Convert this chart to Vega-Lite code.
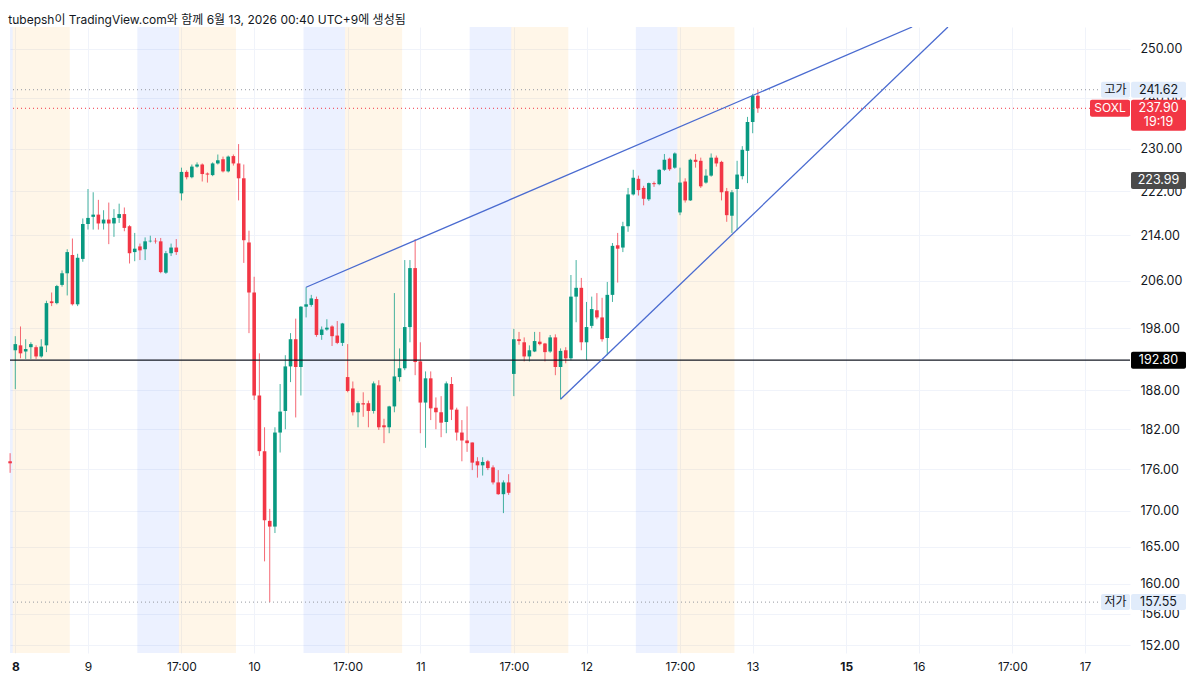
{
  "$schema": "https://vega.github.io/schema/vega-lite/v6.json",
  "width": 1120,
  "height": 626,
  "autosize": "none",
  "padding": {"left": 10, "top": 27, "right": 70, "bottom": 36},
  "background": "#ffffff",
  "config": {
    "view": {"stroke": null},
    "text": {"font": "Inter, 'Noto Sans CJK KR', sans-serif"}
  },
  "title": {
    "text": "tubepsh이 TradingView.com와 함께 6월 13, 2026 00:40 UTC+9에 생성됨",
    "anchor": "start",
    "font": "Inter, 'Noto Sans CJK KR', sans-serif",
    "fontSize": 12,
    "fontWeight": "normal",
    "color": "#131722",
    "offset": 0
  },
  "datasets": {
    "candles": [
      {"i": -1, "o": 177.2, "h": 178.4, "l": 175.5, "c": 176.9},
      {"i": 0, "o": 194.4, "h": 196.7, "l": 188.2, "c": 195.4},
      {"i": 1, "o": 195.2, "h": 198.3, "l": 193.1, "c": 193.9},
      {"i": 2, "o": 194.2, "h": 196.2, "l": 193.0, "c": 194.6},
      {"i": 3, "o": 194.9, "h": 195.7, "l": 193.0, "c": 195.4},
      {"i": 4, "o": 194.9, "h": 195.2, "l": 193.0, "c": 193.4},
      {"i": 5, "o": 193.4, "h": 196.2, "l": 193.2, "c": 195.0},
      {"i": 6, "o": 195.2, "h": 202.6, "l": 194.1, "c": 202.2},
      {"i": 7, "o": 202.5, "h": 204.0, "l": 201.7, "c": 202.2},
      {"i": 8, "o": 202.2, "h": 205.3, "l": 202.0, "c": 205.1},
      {"i": 9, "o": 205.3, "h": 207.8, "l": 205.0, "c": 207.3},
      {"i": 10, "o": 207.3, "h": 211.5, "l": 203.5, "c": 211.0},
      {"i": 11, "o": 210.5, "h": 213.4, "l": 201.8, "c": 202.0},
      {"i": 12, "o": 202.0, "h": 210.7, "l": 201.7, "c": 210.0},
      {"i": 13, "o": 209.8, "h": 217.0, "l": 209.3, "c": 216.0},
      {"i": 14, "o": 216.0, "h": 222.4, "l": 215.0, "c": 217.1},
      {"i": 15, "o": 217.3, "h": 221.8, "l": 215.0, "c": 217.7},
      {"i": 16, "o": 217.7, "h": 220.4, "l": 215.0, "c": 216.1},
      {"i": 17, "o": 216.1, "h": 218.5, "l": 215.0, "c": 216.8},
      {"i": 18, "o": 216.8, "h": 219.9, "l": 212.4, "c": 216.1},
      {"i": 19, "o": 216.1, "h": 218.7, "l": 213.7, "c": 217.1},
      {"i": 20, "o": 217.1, "h": 219.7, "l": 216.2, "c": 217.8},
      {"i": 21, "o": 217.8, "h": 219.0, "l": 214.7, "c": 215.3},
      {"i": 22, "o": 215.6, "h": 215.8, "l": 209.0, "c": 210.8},
      {"i": 23, "o": 211.0, "h": 214.4, "l": 209.4, "c": 211.6},
      {"i": 24, "o": 212.0, "h": 212.5, "l": 209.6, "c": 211.3},
      {"i": 25, "o": 211.5, "h": 213.6, "l": 209.6, "c": 212.9},
      {"i": 26, "o": 212.9, "h": 213.9, "l": 212.7, "c": 213.0},
      {"i": 27, "o": 213.0, "h": 213.5, "l": 212.5, "c": 212.9},
      {"i": 28, "o": 212.9, "h": 213.5, "l": 207.3, "c": 207.5},
      {"i": 29, "o": 207.4, "h": 211.2, "l": 207.2, "c": 210.8},
      {"i": 30, "o": 210.8, "h": 212.5, "l": 210.3, "c": 211.8},
      {"i": 31, "o": 211.8, "h": 213.3, "l": 210.5, "c": 211.0},
      {"i": 32, "o": 221.6, "h": 226.4, "l": 220.3, "c": 225.6},
      {"i": 33, "o": 225.6, "h": 225.9, "l": 224.2, "c": 224.6},
      {"i": 34, "o": 224.6, "h": 227.0, "l": 224.4, "c": 226.6},
      {"i": 35, "o": 226.6, "h": 227.4, "l": 226.4, "c": 227.0},
      {"i": 36, "o": 227.0, "h": 227.2, "l": 223.8, "c": 225.2},
      {"i": 37, "o": 225.3, "h": 225.5, "l": 223.6, "c": 225.1},
      {"i": 38, "o": 225.0, "h": 227.4, "l": 224.8, "c": 227.2},
      {"i": 39, "o": 227.2, "h": 228.9, "l": 227.0, "c": 227.8},
      {"i": 40, "o": 228.0, "h": 228.5, "l": 225.5, "c": 225.7},
      {"i": 41, "o": 225.7, "h": 228.7, "l": 225.5, "c": 228.5},
      {"i": 42, "o": 228.6, "h": 228.9, "l": 226.8, "c": 227.2},
      {"i": 43, "o": 227.2, "h": 230.9, "l": 220.3, "c": 224.4},
      {"i": 44, "o": 224.4, "h": 227.0, "l": 209.1, "c": 213.1},
      {"i": 45, "o": 212.7, "h": 214.8, "l": 197.2, "c": 204.0},
      {"i": 46, "o": 204.0, "h": 206.7, "l": 186.5, "c": 187.2},
      {"i": 47, "o": 187.2, "h": 193.9, "l": 178.0, "c": 178.7},
      {"i": 48, "o": 178.7, "h": 182.3, "l": 163.0, "c": 168.7},
      {"i": 49, "o": 168.6, "h": 170.3, "l": 157.55, "c": 167.8},
      {"i": 50, "o": 167.8, "h": 182.3, "l": 166.9, "c": 181.5},
      {"i": 51, "o": 181.5, "h": 189.0, "l": 178.5, "c": 184.7},
      {"i": 52, "o": 184.8, "h": 193.6, "l": 182.0, "c": 191.8},
      {"i": 53, "o": 191.8, "h": 197.2, "l": 189.3, "c": 196.2},
      {"i": 54, "o": 196.2, "h": 199.6, "l": 183.8, "c": 191.7},
      {"i": 55, "o": 191.7, "h": 201.7, "l": 187.2, "c": 201.6},
      {"i": 56, "o": 201.6, "h": 204.9, "l": 199.8, "c": 202.0},
      {"i": 57, "o": 201.9, "h": 203.6, "l": 201.6, "c": 203.0},
      {"i": 58, "o": 202.9, "h": 203.3, "l": 196.6, "c": 196.9},
      {"i": 59, "o": 196.9, "h": 198.3, "l": 196.1, "c": 197.8},
      {"i": 60, "o": 197.8, "h": 199.5, "l": 197.6, "c": 198.1},
      {"i": 61, "o": 198.3, "h": 198.5, "l": 195.1, "c": 196.7},
      {"i": 62, "o": 196.8, "h": 199.2, "l": 195.4, "c": 195.6},
      {"i": 63, "o": 195.6, "h": 198.9, "l": 195.1, "c": 198.8},
      {"i": 64, "o": 190.1, "h": 195.4, "l": 187.7, "c": 187.9},
      {"i": 65, "o": 188.3, "h": 189.4, "l": 184.1, "c": 184.6},
      {"i": 66, "o": 184.6, "h": 186.3, "l": 182.3, "c": 186.0},
      {"i": 67, "o": 186.0, "h": 187.7, "l": 183.9, "c": 185.8},
      {"i": 68, "o": 186.0, "h": 186.4, "l": 182.3, "c": 184.8},
      {"i": 69, "o": 184.8, "h": 189.4, "l": 184.4, "c": 189.1},
      {"i": 70, "o": 188.8, "h": 189.6, "l": 181.9, "c": 182.3},
      {"i": 71, "o": 182.6, "h": 183.6, "l": 179.9, "c": 182.3},
      {"i": 72, "o": 182.3, "h": 185.6, "l": 181.4, "c": 185.5},
      {"i": 73, "o": 185.5, "h": 203.9, "l": 184.6, "c": 190.2},
      {"i": 74, "o": 190.1, "h": 194.7, "l": 189.4, "c": 191.5},
      {"i": 75, "o": 191.5, "h": 209.6, "l": 191.2, "c": 198.2},
      {"i": 76, "o": 198.2, "h": 209.6, "l": 195.7, "c": 208.2},
      {"i": 77, "o": 208.2, "h": 213.3, "l": 190.4, "c": 192.5},
      {"i": 78, "o": 192.6, "h": 195.7, "l": 181.4, "c": 186.1},
      {"i": 79, "o": 186.1, "h": 191.0, "l": 179.2, "c": 189.9},
      {"i": 80, "o": 189.9, "h": 191.0, "l": 183.4, "c": 185.2},
      {"i": 81, "o": 185.3, "h": 186.9, "l": 182.0, "c": 184.6},
      {"i": 82, "o": 184.6, "h": 187.1, "l": 180.8, "c": 183.0},
      {"i": 83, "o": 183.1, "h": 189.4, "l": 181.4, "c": 189.1},
      {"i": 84, "o": 189.0, "h": 190.1, "l": 183.4, "c": 185.0},
      {"i": 85, "o": 185.0, "h": 185.3, "l": 180.3, "c": 181.5},
      {"i": 86, "o": 181.5, "h": 183.4, "l": 177.2, "c": 180.3},
      {"i": 87, "o": 180.3, "h": 185.5, "l": 178.6, "c": 179.9},
      {"i": 88, "o": 180.0, "h": 180.0, "l": 175.9, "c": 177.0},
      {"i": 89, "o": 177.2, "h": 177.8, "l": 174.8, "c": 176.6},
      {"i": 90, "o": 176.6, "h": 177.8, "l": 175.1, "c": 177.1},
      {"i": 91, "o": 177.2, "h": 177.4, "l": 175.9, "c": 176.2},
      {"i": 92, "o": 176.3, "h": 176.6, "l": 173.8, "c": 174.1},
      {"i": 93, "o": 174.1, "h": 175.9, "l": 172.3, "c": 172.4},
      {"i": 94, "o": 172.4, "h": 174.4, "l": 169.7, "c": 174.1},
      {"i": 95, "o": 174.1, "h": 175.3, "l": 172.3, "c": 172.6},
      {"i": 96, "o": 190.6, "h": 197.9, "l": 187.1, "c": 196.2},
      {"i": 97, "o": 196.2, "h": 197.4, "l": 195.3, "c": 195.9},
      {"i": 98, "o": 195.7, "h": 196.5, "l": 192.6, "c": 193.4},
      {"i": 99, "o": 193.4, "h": 195.2, "l": 192.6, "c": 194.4},
      {"i": 100, "o": 194.2, "h": 197.4, "l": 194.1, "c": 195.9},
      {"i": 101, "o": 195.8, "h": 197.4, "l": 195.2, "c": 195.4},
      {"i": 102, "o": 195.5, "h": 195.6, "l": 192.6, "c": 194.1},
      {"i": 103, "o": 194.2, "h": 196.9, "l": 194.0, "c": 196.5},
      {"i": 104, "o": 196.5, "h": 197.0, "l": 190.4, "c": 191.7},
      {"i": 105, "o": 191.7, "h": 194.7, "l": 186.6, "c": 194.3},
      {"i": 106, "o": 194.4, "h": 194.9, "l": 192.3, "c": 193.1},
      {"i": 107, "o": 193.1, "h": 207.0, "l": 192.8, "c": 203.3},
      {"i": 108, "o": 203.3, "h": 209.6, "l": 199.0, "c": 204.8},
      {"i": 109, "o": 204.8, "h": 206.5, "l": 194.4, "c": 195.7},
      {"i": 110, "o": 195.7, "h": 202.4, "l": 192.8, "c": 198.2},
      {"i": 111, "o": 198.4, "h": 203.3, "l": 198.0, "c": 201.2},
      {"i": 112, "o": 201.0, "h": 203.9, "l": 199.5, "c": 199.8},
      {"i": 113, "o": 199.8, "h": 203.1, "l": 195.8, "c": 196.2},
      {"i": 114, "o": 196.4, "h": 205.8, "l": 193.6, "c": 203.6},
      {"i": 115, "o": 203.6, "h": 212.6, "l": 202.4, "c": 212.1},
      {"i": 116, "o": 212.2, "h": 214.4, "l": 205.7, "c": 211.6},
      {"i": 117, "o": 211.8, "h": 216.4, "l": 211.0, "c": 215.6},
      {"i": 118, "o": 215.6, "h": 222.6, "l": 214.6, "c": 221.4},
      {"i": 119, "o": 221.4, "h": 226.0, "l": 221.2, "c": 224.5},
      {"i": 120, "o": 224.3, "h": 224.9, "l": 221.2, "c": 222.2},
      {"i": 121, "o": 222.6, "h": 223.0, "l": 219.4, "c": 220.6},
      {"i": 122, "o": 220.5, "h": 223.6, "l": 220.2, "c": 223.5},
      {"i": 123, "o": 223.5, "h": 223.8, "l": 222.8, "c": 223.3},
      {"i": 124, "o": 223.3, "h": 226.1, "l": 223.1, "c": 226.0},
      {"i": 125, "o": 226.0, "h": 229.0, "l": 225.8, "c": 227.9},
      {"i": 126, "o": 228.1, "h": 228.3, "l": 225.8, "c": 226.1},
      {"i": 127, "o": 226.4, "h": 229.3, "l": 226.2, "c": 229.1},
      {"i": 128, "o": 218.1, "h": 226.4, "l": 217.6, "c": 223.6},
      {"i": 129, "o": 223.8, "h": 224.4, "l": 219.9, "c": 220.3},
      {"i": 130, "o": 220.3, "h": 228.1, "l": 220.2, "c": 227.9},
      {"i": 131, "o": 227.9, "h": 229.0, "l": 226.4, "c": 227.5},
      {"i": 132, "o": 227.7, "h": 228.3, "l": 222.6, "c": 222.9},
      {"i": 133, "o": 223.6, "h": 226.1, "l": 223.4, "c": 224.9},
      {"i": 134, "o": 224.9, "h": 229.1, "l": 224.7, "c": 228.3},
      {"i": 135, "o": 228.3, "h": 228.7, "l": 226.6, "c": 227.2},
      {"i": 136, "o": 227.5, "h": 227.7, "l": 220.3, "c": 221.8},
      {"i": 137, "o": 222.0, "h": 222.6, "l": 216.4, "c": 217.6},
      {"i": 138, "o": 217.5, "h": 222.2, "l": 214.4, "c": 221.8},
      {"i": 139, "o": 222.4, "h": 227.7, "l": 214.9, "c": 225.1},
      {"i": 140, "o": 224.8, "h": 230.5, "l": 224.2, "c": 229.8},
      {"i": 141, "o": 229.6, "h": 236.2, "l": 223.5, "c": 235.2},
      {"i": 142, "o": 235.2, "h": 240.8, "l": 233.0, "c": 240.4},
      {"i": 143, "o": 240.4, "h": 241.62, "l": 237.0, "c": 237.9}
    ],
    "sessions": [
      {"s": -1.5, "e": -0.5, "t": "post"},
      {"s": -0.5, "e": 10.5, "t": "pre"},
      {"s": 23.5, "e": 31.5, "t": "post"},
      {"s": 31.5, "e": 42.5, "t": "pre"},
      {"s": 55.5, "e": 63.5, "t": "post"},
      {"s": 63.5, "e": 74.5, "t": "pre"},
      {"s": 87.5, "e": 95.5, "t": "post"},
      {"s": 95.5, "e": 106.5, "t": "pre"},
      {"s": 119.5, "e": 127.5, "t": "post"},
      {"s": 127.5, "e": 138.5, "t": "pre"}
    ],
    "trend": [
      {"id": "upper", "i": 56, "p": 204.9},
      {"id": "upper", "i": 172.7, "p": 254.6},
      {"id": "lower", "i": 105, "p": 186.6},
      {"id": "lower", "i": 179.6, "p": 254.6}
    ],
    "extremes": [
      {"price": 241.62, "name": "고가"},
      {"price": 157.55, "name": "저가"}
    ],
    "last": [
      {"price": 237.9, "symbol": "SOXL", "countdown": "19:19"}
    ],
    "pivot": [
      {"price": 192.8}
    ],
    "prevclose": [
      {"price": 223.99}
    ]
  },
  "layer": [
    {
      "data": {"name": "sessions"},
      "mark": {"type": "rect", "opacity": 0.09, "clip": true},
      "encoding": {
        "x": {"field": "s", "type": "quantitative", "scale": {"domain": [-1.02, 214.66], "nice": false, "zero": false, "padding": 0}, "axis": {"title": null}},
        "x2": {"field": "e"},
        "color": {
          "field": "t", "type": "nominal",
          "scale": {"domain": ["pre", "post"], "range": ["#ff9800", "#2962ff"]},
          "legend": null
        }
      }
    },
    {
      "data": {"name": "candles"},
      "mark": {"type": "rule", "strokeWidth": 1, "opacity": 0.75},
      "encoding": {
        "x": {
          "field": "i", "type": "quantitative",
          "scale": {"domain": [-1.02, 214.66], "nice": false, "zero": false, "padding": 0},
          "axis": {
            "values": [0, 14, 32, 46, 64, 78, 96, 110, 128, 142, 160, 174, 192, 206],
            "labelExpr": "['8','9','17:00','10','17:00','11','17:00','12','17:00','13','15','16','17:00','17'][indexof([0,14,32,46,64,78,96,110,128,142,160,174,192,206], datum.value)]",
            "title": null,
            "grid": true,
            "gridColor": "#f0f3fa",
            "gridWidth": 1,
            "ticks": false,
            "tickSize": 0,
            "domain": false,
            "labelPadding": 8,
            "labelFont": "Inter",
            "labelFontSize": 12,
            "labelColor": "#131722",
            "labelFlush": false,
            "labelOverlap": false,
            "labelFontWeight": {"condition": {"test": "datum.value == 0 || datum.value == 160", "value": "bold"}, "value": "normal"}
          }
        },
        "y": {
          "field": "l", "type": "quantitative",
          "scale": {"type": "log", "domain": [151.0, 254.6], "nice": false, "zero": false},
          "axis": {
            "orient": "right",
            "values": [152, 156, 160, 165, 170, 176, 182, 188, 198, 206, 214, 222, 230, 240, 250],
            "format": ".2f",
            "title": null,
            "grid": true,
            "gridColor": "#f0f3fa",
            "gridWidth": 1,
            "ticks": false,
            "tickSize": 0,
            "domain": false,
            "labelPadding": 10,
            "labelAlign": "left",
            "labelBaseline": "middle",
            "labelFont": "Inter",
            "labelFontSize": 12.5,
            "labelColor": "#131722",
            "labelFlush": false,
            "labelOverlap": false
          }
        },
        "y2": {"field": "h"},
        "color": {"condition": {"test": "datum.c >= datum.o", "value": "#089981"}, "value": "#f23645"}
      }
    },
    {
      "data": {"name": "candles"},
      "mark": {"type": "bar", "width": 3.6},
      "encoding": {
        "x": {"field": "i", "type": "quantitative", "scale": {"domain": [-1.02, 214.66], "nice": false, "zero": false, "padding": 0}, "axis": {"title": null}},
        "y": {"field": "o", "type": "quantitative", "scale": {"type": "log", "domain": [151.0, 254.6], "nice": false, "zero": false}, "axis": {"title": null}},
        "y2": {"field": "c"},
        "color": {"condition": {"test": "datum.c >= datum.o", "value": "#089981"}, "value": "#f23645"}
      }
    },
    {
      "data": {"name": "extremes"},
      "mark": {"type": "rule", "color": "#9598a1", "strokeWidth": 1, "strokeDash": [1, 3]},
      "encoding": {"y": {"field": "price", "type": "quantitative", "scale": {"type": "log", "domain": [151.0, 254.6], "nice": false, "zero": false}, "axis": {"title": null}}}
    },
    {
      "data": {"name": "last"},
      "mark": {"type": "rule", "color": "#f23645", "strokeWidth": 1, "strokeDash": [1, 3]},
      "encoding": {"y": {"field": "price", "type": "quantitative", "scale": {"type": "log", "domain": [151.0, 254.6], "nice": false, "zero": false}, "axis": {"title": null}}}
    },
    {
      "data": {"name": "pivot"},
      "mark": {"type": "rule", "color": "#131722", "strokeWidth": 1.4},
      "encoding": {"y": {"field": "price", "type": "quantitative", "scale": {"type": "log", "domain": [151.0, 254.6], "nice": false, "zero": false}, "axis": {"title": null}}}
    },
    {
      "data": {"name": "trend"},
      "mark": {"type": "line", "color": "#4a6bd0", "strokeWidth": 1.3, "clip": true},
      "encoding": {
        "x": {"field": "i", "type": "quantitative", "scale": {"domain": [-1.02, 214.66], "nice": false, "zero": false, "padding": 0}, "axis": {"title": null}},
        "y": {"field": "p", "type": "quantitative", "scale": {"type": "log", "domain": [151.0, 254.6], "nice": false, "zero": false}, "axis": {"title": null}},
        "detail": {"field": "id", "type": "nominal"}
      }
    },
    {
      "data": {"name": "extremes"},
      "mark": {"type": "rect", "width": 29, "height": 16, "cornerRadius": 2, "color": "#e1ecfb"},
      "encoding": {
        "x": {"datum": 211.87, "type": "quantitative", "scale": {"domain": [-1.02, 214.66], "nice": false, "zero": false, "padding": 0}, "axis": {"title": null}},
        "y": {"field": "price", "type": "quantitative", "scale": {"type": "log", "domain": [151.0, 254.6], "nice": false, "zero": false}, "axis": {"title": null}}
      }
    },
    {
      "data": {"name": "extremes"},
      "mark": {"type": "text", "fontSize": 12, "color": "#131722", "align": "center", "baseline": "middle"},
      "encoding": {
        "x": {"datum": 211.87, "type": "quantitative", "scale": {"domain": [-1.02, 214.66], "nice": false, "zero": false, "padding": 0}, "axis": {"title": null}},
        "y": {"field": "price", "type": "quantitative", "scale": {"type": "log", "domain": [151.0, 254.6], "nice": false, "zero": false}, "axis": {"title": null}},
        "text": {"field": "name"}
      }
    },
    {
      "data": {"name": "extremes"},
      "mark": {"type": "rect", "width": 55, "height": 16, "cornerRadius": 2, "color": "#e1ecfb"},
      "encoding": {
        "x": {"datum": 220.15, "type": "quantitative", "scale": {"domain": [-1.02, 214.66], "nice": false, "zero": false, "padding": 0}, "axis": {"title": null}},
        "y": {"field": "price", "type": "quantitative", "scale": {"type": "log", "domain": [151.0, 254.6], "nice": false, "zero": false}, "axis": {"title": null}}
      }
    },
    {
      "data": {"name": "extremes"},
      "mark": {"type": "text", "fontSize": 12.5, "color": "#131722", "align": "center", "baseline": "middle"},
      "encoding": {
        "x": {"datum": 220.15, "type": "quantitative", "scale": {"domain": [-1.02, 214.66], "nice": false, "zero": false, "padding": 0}, "axis": {"title": null}},
        "y": {"field": "price", "type": "quantitative", "scale": {"type": "log", "domain": [151.0, 254.6], "nice": false, "zero": false}, "axis": {"title": null}},
        "text": {"field": "price", "format": ".2f"}
      }
    },
    {
      "data": {"name": "last"},
      "mark": {"type": "rect", "width": 40, "height": 17, "cornerRadius": 2, "color": "#f23645"},
      "encoding": {
        "x": {"datum": 210.81, "type": "quantitative", "scale": {"domain": [-1.02, 214.66], "nice": false, "zero": false, "padding": 0}, "axis": {"title": null}},
        "y": {"field": "price", "type": "quantitative", "scale": {"type": "log", "domain": [151.0, 254.6], "nice": false, "zero": false}, "axis": {"title": null}}
      }
    },
    {
      "data": {"name": "last"},
      "mark": {"type": "text", "fontSize": 12, "color": "#ffffff", "align": "center", "baseline": "middle"},
      "encoding": {
        "x": {"datum": 210.81, "type": "quantitative", "scale": {"domain": [-1.02, 214.66], "nice": false, "zero": false, "padding": 0}, "axis": {"title": null}},
        "y": {"field": "price", "type": "quantitative", "scale": {"type": "log", "domain": [151.0, 254.6], "nice": false, "zero": false}, "axis": {"title": null}},
        "text": {"field": "symbol"}
      }
    },
    {
      "data": {"name": "last"},
      "mark": {"type": "rect", "width": 55, "height": 31, "yOffset": 7, "cornerRadius": 2, "color": "#f23645"},
      "encoding": {
        "x": {"datum": 220.15, "type": "quantitative", "scale": {"domain": [-1.02, 214.66], "nice": false, "zero": false, "padding": 0}, "axis": {"title": null}},
        "y": {"field": "price", "type": "quantitative", "scale": {"type": "log", "domain": [151.0, 254.6], "nice": false, "zero": false}, "axis": {"title": null}}
      }
    },
    {
      "data": {"name": "last"},
      "mark": {"type": "text", "fontSize": 12.5, "color": "#ffffff", "align": "center", "baseline": "middle"},
      "encoding": {
        "x": {"datum": 220.15, "type": "quantitative", "scale": {"domain": [-1.02, 214.66], "nice": false, "zero": false, "padding": 0}, "axis": {"title": null}},
        "y": {"field": "price", "type": "quantitative", "scale": {"type": "log", "domain": [151.0, 254.6], "nice": false, "zero": false}, "axis": {"title": null}},
        "text": {"field": "price", "format": ".2f"}
      }
    },
    {
      "data": {"name": "last"},
      "mark": {"type": "text", "fontSize": 12.5, "color": "#ffffff", "align": "center", "baseline": "middle", "dy": 14},
      "encoding": {
        "x": {"datum": 220.15, "type": "quantitative", "scale": {"domain": [-1.02, 214.66], "nice": false, "zero": false, "padding": 0}, "axis": {"title": null}},
        "y": {"field": "price", "type": "quantitative", "scale": {"type": "log", "domain": [151.0, 254.6], "nice": false, "zero": false}, "axis": {"title": null}},
        "text": {"field": "countdown"}
      }
    },
    {
      "data": {"name": "prevclose"},
      "mark": {"type": "rect", "width": 55, "height": 17, "cornerRadius": 2, "color": "#4a4a4a"},
      "encoding": {
        "x": {"datum": 220.15, "type": "quantitative", "scale": {"domain": [-1.02, 214.66], "nice": false, "zero": false, "padding": 0}, "axis": {"title": null}},
        "y": {"field": "price", "type": "quantitative", "scale": {"type": "log", "domain": [151.0, 254.6], "nice": false, "zero": false}, "axis": {"title": null}}
      }
    },
    {
      "data": {"name": "prevclose"},
      "mark": {"type": "text", "fontSize": 12.5, "color": "#ffffff", "align": "center", "baseline": "middle"},
      "encoding": {
        "x": {"datum": 220.15, "type": "quantitative", "scale": {"domain": [-1.02, 214.66], "nice": false, "zero": false, "padding": 0}, "axis": {"title": null}},
        "y": {"field": "price", "type": "quantitative", "scale": {"type": "log", "domain": [151.0, 254.6], "nice": false, "zero": false}, "axis": {"title": null}},
        "text": {"field": "price", "format": ".2f"}
      }
    },
    {
      "data": {"name": "pivot"},
      "mark": {"type": "rect", "width": 55, "height": 17, "cornerRadius": 2, "color": "#000000"},
      "encoding": {
        "x": {"datum": 220.15, "type": "quantitative", "scale": {"domain": [-1.02, 214.66], "nice": false, "zero": false, "padding": 0}, "axis": {"title": null}},
        "y": {"field": "price", "type": "quantitative", "scale": {"type": "log", "domain": [151.0, 254.6], "nice": false, "zero": false}, "axis": {"title": null}}
      }
    },
    {
      "data": {"name": "pivot"},
      "mark": {"type": "text", "fontSize": 12.5, "color": "#ffffff", "align": "center", "baseline": "middle"},
      "encoding": {
        "x": {"datum": 220.15, "type": "quantitative", "scale": {"domain": [-1.02, 214.66], "nice": false, "zero": false, "padding": 0}, "axis": {"title": null}},
        "y": {"field": "price", "type": "quantitative", "scale": {"type": "log", "domain": [151.0, 254.6], "nice": false, "zero": false}, "axis": {"title": null}},
        "text": {"field": "price", "format": ".2f"}
      }
    }
  ]
}
